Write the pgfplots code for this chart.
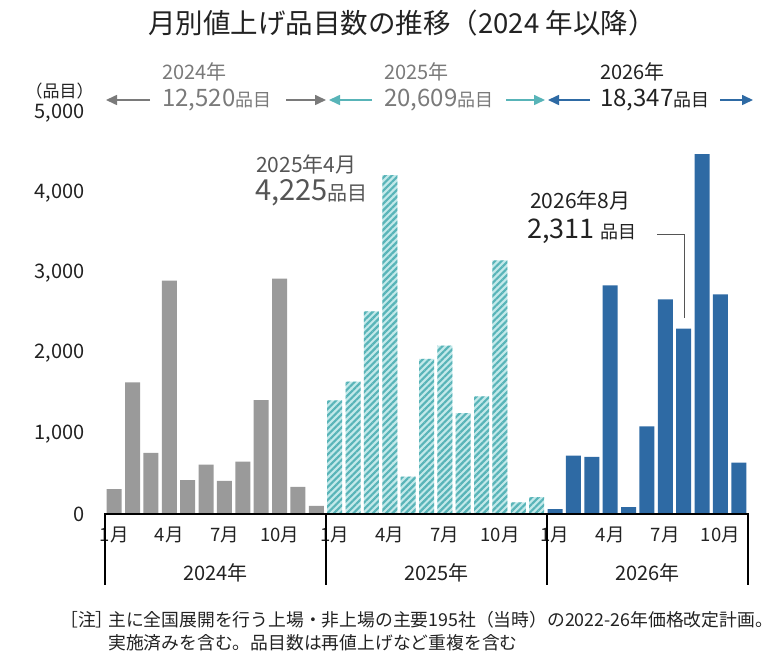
\documentclass[border=0pt]{standalone}
\usepackage{fontspec}
\setmainfont{Noto Sans CJK JP}
\usepackage{pgfplots}
\pgfplotsset{compat=1.18}
\usetikzlibrary{patterns.meta,arrows.meta}
\definecolor{barGray}{HTML}{9A9A9A}
\definecolor{tealLine}{HTML}{58B4B8}
\definecolor{tealLight}{HTML}{C3E9EA}
\definecolor{barBlue}{HTML}{2E6AA4}
\definecolor{txtGray}{HTML}{7A7A7A}
\definecolor{txtDark}{HTML}{222222}
\definecolor{annGray}{HTML}{555555}
\newcommand{\fs}[1]{\fontsize{#1}{#1}\selectfont}
\begin{document}
\begin{tikzpicture}[x=1pt,y=1pt]
\useasboundingbox (0,0) rectangle (784,665);
\begin{axis}[
  at={(105pt,151pt)}, anchor=south west,
  scale only axis, width=643pt, height=401pt,
  xmin=-0.5, xmax=34.5, ymin=0, ymax=5000,
  axis line style={draw=none}, tick style={draw=none},
  xtick={0,3,6,9,12,15,18,21,24,27,30,33},
  xticklabels={1月,4月,7月,10月,1月,4月,7月,10月,1月,4月,7月,10月},
  ytick={0,1000,2000,3000,4000,5000},
  /pgf/number format/assume math mode=true,
  /pgf/number format/1000 sep={,},
  scaled y ticks=false,
  ticklabel style={text=txtDark},
  xticklabel style={font=\fs{18.5}, anchor=center, yshift=-21pt},
  yticklabel style={font=\fs{20}, anchor=east, inner sep=0pt, xshift=-20pt},
  clip=false,
]
\addplot[ybar, bar width=15pt, bar shift=0pt, fill=barGray, draw=none] coordinates {
(0,310) (1,1640) (2,762) (3,2910) (4,421) (5,617) (6,412) (7,654) (8,1420) (9,2935) (10,337) (11,100)};
\addplot[ybar, bar width=15pt, bar shift=0pt, fill=tealLight, draw=none,
  postaction={pattern={Lines[angle=45,distance=4.6pt,line width=2.2pt]}, pattern color=tealLine}] coordinates {
(12,1417) (13,1650) (14,2525) (15,4225) (16,467) (17,1933) (18,2100) (19,1258) (20,1467) (21,3162) (22,146) (23,212)};
\addplot[ybar, bar width=15pt, bar shift=0pt, fill=barBlue, draw=none] coordinates {
(24,62) (25,729) (26,712) (27,2850) (28,87) (29,1092) (30,2675) (31,2311) (32,4487) (33,2737) (34,642)};
\end{axis}
% title
\node[text=txtDark, font=\fs{27.5}] at (402,642) {月別値上げ品目数の推移（2024 年以降）};
% unit
\node[anchor=west, text=txtDark, font=\fs{17}] at (22,574) {（品目）};
% year totals
\node[anchor=west, text=txtGray, inner sep=0pt, font=\fs{20}] at (162,593) {2024年};
\node[anchor=west, text=txtGray, inner sep=0pt] at (162,565) {\fs{24}12,520\fs{18}品目};
\draw[txtGray, line width=1.6pt, -{Triangle[length=11pt,width=10pt]}] (150,565) -- (106,565);
\draw[txtGray, line width=1.6pt, -{Triangle[length=11pt,width=10pt]}] (286,565) -- (326,565);
\node[anchor=west, text=txtGray, inner sep=0pt, font=\fs{20}] at (384,593) {2025年};
\node[anchor=west, text=txtGray, inner sep=0pt] at (384,565) {\fs{24}20,609\fs{18}品目};
\draw[tealLine, line width=1.6pt, -{Triangle[length=11pt,width=10pt]}] (372,565) -- (329,565);
\draw[tealLine, line width=1.6pt, -{Triangle[length=11pt,width=10pt]}] (506,565) -- (545,565);
\node[anchor=west, text=txtDark, inner sep=0pt, font=\fs{20}] at (600,593) {2026年};
\node[anchor=west, text=txtDark, inner sep=0pt] at (600,565) {\fs{24}18,347\fs{18}品目};
\draw[barBlue, line width=1.6pt, -{Triangle[length=11pt,width=10pt]}] (590,565) -- (548,565);
\draw[barBlue, line width=1.6pt, -{Triangle[length=11pt,width=10pt]}] (720,565) -- (753,565);
% annotations
\node[anchor=west, text=annGray, inner sep=0pt, font=\fs{21}] at (256,501) {2025年4月};
\node[anchor=west, text=annGray, inner sep=0pt] at (255,472) {\fs{29}4,225\fs{20}品目};
\node[anchor=west, text=txtDark, inner sep=0pt, font=\fs{21}] at (530,465) {2026年8月};
\node[anchor=west, text=txtDark, inner sep=0pt] at (527,434) {\fs{27}2,311 \fs{18}品目};
\draw[annGray, line width=0.8pt] (657,431) -- (684,431) -- (684,347);
% bottom bracket
\draw[black, line width=2pt] (104,151) -- (749,151);
\foreach \xx in {105,326,547,748} \draw[black, line width=2pt] (\xx,152) -- (\xx,80);
\node[text=txtDark, font=\fs{20}] at (215.5,92) {2024年};
\node[text=txtDark, font=\fs{20}] at (436.5,92) {2025年};
\node[text=txtDark, font=\fs{20}] at (647.5,92) {2026年};
% footnote
\node[anchor=west, text=txtDark, inner sep=0pt, font=\fs{17.8}] at (60,45) {［注］};
\node[anchor=west, text=txtDark, inner sep=0pt, font=\fs{17.8}] at (108,45) {主に全国展開を行う上場・非上場の主要195社（当時）の2022-26年価格改定計画。};
\node[anchor=west, text=txtDark, inner sep=0pt, font=\fs{17.8}] at (108,22) {実施済みを含む。品目数は再値上げなど重複を含む};
\end{tikzpicture}
\end{document}
